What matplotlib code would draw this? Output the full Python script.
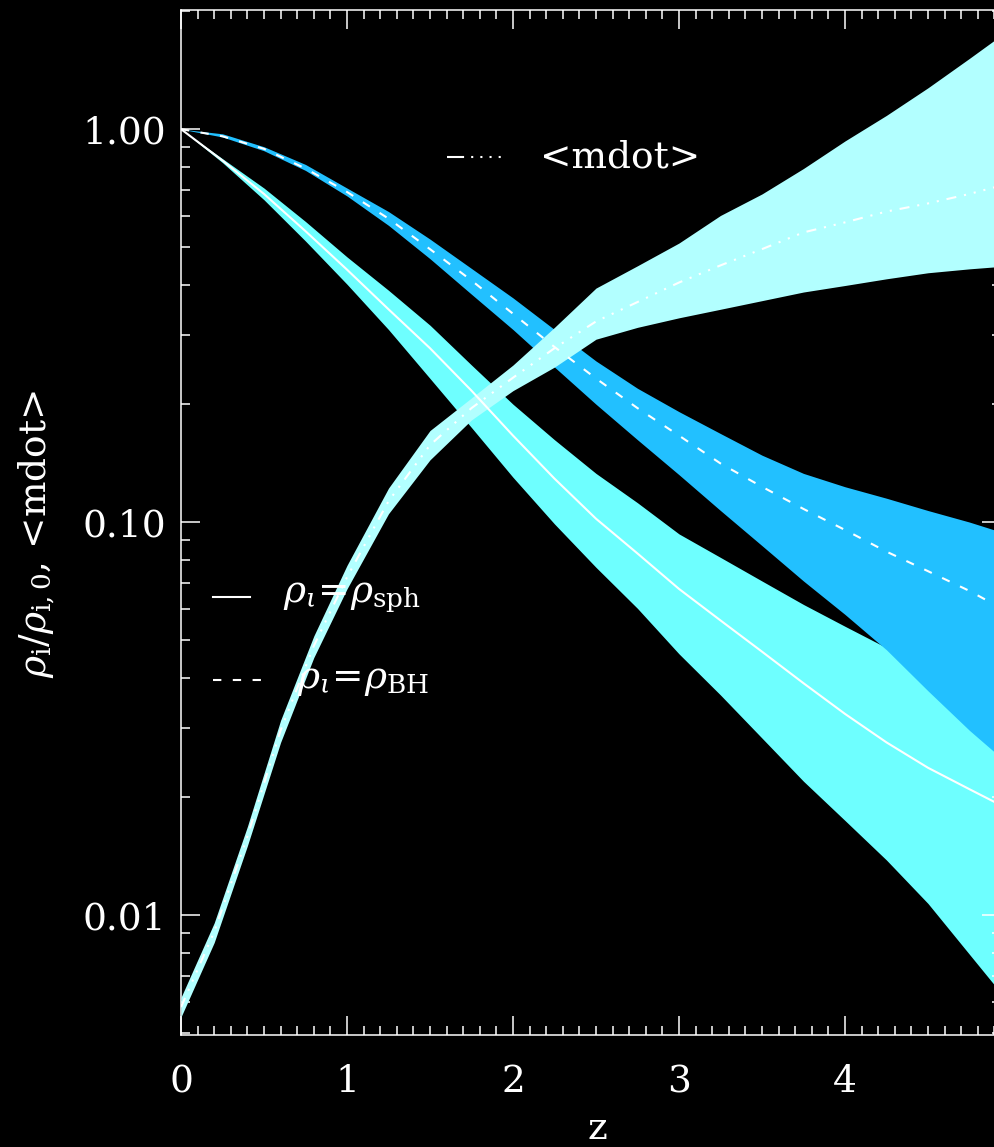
import numpy as np
import matplotlib
matplotlib.use("Agg")
import matplotlib.pyplot as plt
from matplotlib.lines import Line2D
from matplotlib.ticker import LogLocator, NullFormatter, MultipleLocator

plt.rcParams["font.family"] = ["DejaVu Serif"]
plt.rcParams["mathtext.fontset"] = "dejavuserif"

# ===== data =====
z = [0.0, 0.25, 0.5, 0.75, 1.0, 1.25, 1.5, 1.75, 2.0, 2.25, 2.5,
     2.75, 3.0, 3.25, 3.5, 3.75, 4.0, 4.25, 4.5, 4.75, 4.9]

# rho_i = rho_sph : median and band
sph_mid = [1.0, 0.832, 0.684, 0.550, 0.439, 0.348, 0.277, 0.216, 0.166, 0.129, 0.102,
           0.0832, 0.0676, 0.0562, 0.0468, 0.0389, 0.0325, 0.0275, 0.0237, 0.0209, 0.0194]
sph_hi = [1.0, 0.841, 0.708, 0.582, 0.473, 0.389, 0.317, 0.251, 0.1995, 0.162, 0.133,
          0.112, 0.0933, 0.0813, 0.0708, 0.0617, 0.0543, 0.0479, 0.0417, 0.0372, 0.0347]
sph_lo = [1.0, 0.822, 0.661, 0.519, 0.403, 0.309, 0.232, 0.174, 0.130, 0.0989, 0.0767,
          0.0603, 0.0462, 0.0363, 0.0282, 0.0219, 0.0174, 0.0138, 0.0107, 0.00794, 0.00664]

# rho_i = rho_BH : median and band
bh_mid = [1.0, 0.959, 0.891, 0.794, 0.692, 0.592, 0.495, 0.412, 0.339, 0.279, 0.232,
          0.195, 0.166, 0.141, 0.123, 0.108, 0.0955, 0.0841, 0.0750, 0.0668, 0.0617]
bh_hi = [1.0, 0.973, 0.902, 0.813, 0.708, 0.617, 0.525, 0.442, 0.372, 0.309, 0.257,
         0.219, 0.191, 0.168, 0.148, 0.133, 0.123, 0.115, 0.107, 0.100, 0.0955]
bh_lo = [1.0, 0.955, 0.881, 0.785, 0.676, 0.569, 0.468, 0.380, 0.309, 0.248, 0.1995,
         0.162, 0.132, 0.107, 0.0871, 0.0708, 0.0582, 0.0473, 0.0372, 0.0295, 0.0260]

# <mdot> : median and band
z_md = [0.0, 0.2, 0.4, 0.6, 0.8, 1.0, 1.25, 1.5, 1.75, 2.0, 2.25, 2.5,
        2.75, 3.0, 3.25, 3.5, 3.75, 4.0, 4.25, 4.5, 4.75, 4.9]
md_mid = [0.00583, 0.00906, 0.01585, 0.0295, 0.0484, 0.0724, 0.113, 0.157, 0.195, 0.233, 0.277,
          0.324, 0.363, 0.407, 0.450, 0.495, 0.546, 0.579, 0.617, 0.647, 0.684, 0.711]
md_hi = [0.00617, 0.00955, 0.0168, 0.0313, 0.0513, 0.0776, 0.122, 0.171, 0.207, 0.251, 0.313,
         0.394, 0.449, 0.513, 0.603, 0.684, 0.794, 0.933, 1.084, 1.274, 1.514, 1.683]
md_lo = [0.00550, 0.00851, 0.0150, 0.0275, 0.0452, 0.0676, 0.105, 0.144, 0.182, 0.216, 0.248,
         0.292, 0.313, 0.331, 0.348, 0.366, 0.385, 0.400, 0.416, 0.431, 0.441, 0.446]

ytick_vals = [0.01, 0.1, 1.0]
ytick_labels = ["0.01", "0.10", "1.00"]

# ===== style =====
W, H = 995, 1147
C_SPH = "#6EFFFF"
C_BH = "#22C0FF"
C_MD = "#B2FFFF"
LW = 1.5
DASH_BH = (4, 5.5)
DASH_MD = (4.8, 3.8, 1, 3.8, 1, 3.8, 1, 3.8)
DASH_MD_KEY = (8.2, 3.4, 1, 3.4, 1, 3.4, 1, 3.4, 1, 20)
FS = 27

fig = plt.figure(figsize=(W / 100, H / 100), dpi=100, facecolor="black")
ax = fig.add_axes([181 / W, 1 - 1035 / H, 820 / W, 1025 / H])
ax.set_facecolor("black")

# bands: sph under BH under mdot
ax.fill_between(z, sph_lo, sph_hi, color=C_SPH, lw=0, zorder=1)
ax.fill_between(z, bh_lo, bh_hi, color=C_BH, lw=0, zorder=2)
ax.fill_between(z_md, md_lo, md_hi, color=C_MD, lw=0, zorder=3)

ax.plot(z, sph_mid, color="white", lw=LW, zorder=5)
ax.plot(z, bh_mid, color="white", lw=LW, dashes=DASH_BH, zorder=5)
ax.plot(z_md, md_mid, color="white", lw=LW, dashes=DASH_MD, zorder=5)

ax.set_yscale("log")
ax.set_xlim(0, 4.94)
ax.set_ylim(0.00495, 2.01)

ax.xaxis.set_major_locator(MultipleLocator(1))
ax.xaxis.set_minor_locator(MultipleLocator(0.1))
ax.set_yticks(ytick_vals)
ax.set_yticklabels(ytick_labels)
ax.yaxis.set_minor_locator(LogLocator(base=10, subs=np.arange(2, 10)))
ax.yaxis.set_minor_formatter(NullFormatter())

ax.tick_params(which="both", direction="in", top=True, right=True,
               color="white", width=1.1, labelcolor="white", labelsize=FS)
ax.tick_params(which="major", length=14)
ax.tick_params(which="minor", length=6.5)
ax.tick_params(axis="x", pad=21)
ax.tick_params(axis="y", pad=11)
for s in ax.spines.values():
    s.set_color("white")
    s.set_linewidth(1.1)

# axis labels
fig.text(597 / W, 1 - 1139 / H, "z", color="white", fontsize=FS,
         ha="center", va="baseline")
fig.text(37 / W, 1 - 534 / H, r"$\rho_{\rm i}/\rho_{\rm i,0}$, <mdot>", color="white",
         fontsize=FS, rotation=90, ha="center", va="center")

# hand-placed key
def sample(x0, x1, y, **kw):
    fig.add_artist(Line2D([x0 / W, x1 / W], [1 - y / H, 1 - y / H],
                          color="white", lw=LW, **kw))

sample(447, 502, 157, dashes=DASH_MD_KEY)
fig.text(540 / W, 1 - 157 / H, "<mdot>", color="white", fontsize=FS,
         ha="left", va="center")
sample(213, 250, 597)
fig.text(283 / W, 1 - 597 / H, r"$\rho_\iota\!=\!\rho_{\rm sph}$", color="white",
         fontsize=FS, ha="left", va="center")
sample(213, 268, 680, dashes=DASH_BH)
fig.text(297 / W, 1 - 680 / H, r"$\rho_\iota\!=\!\rho_{\rm BH}$", color="white",
         fontsize=FS, ha="left", va="center")

fig.savefig("out.png", dpi=100, facecolor="black")
